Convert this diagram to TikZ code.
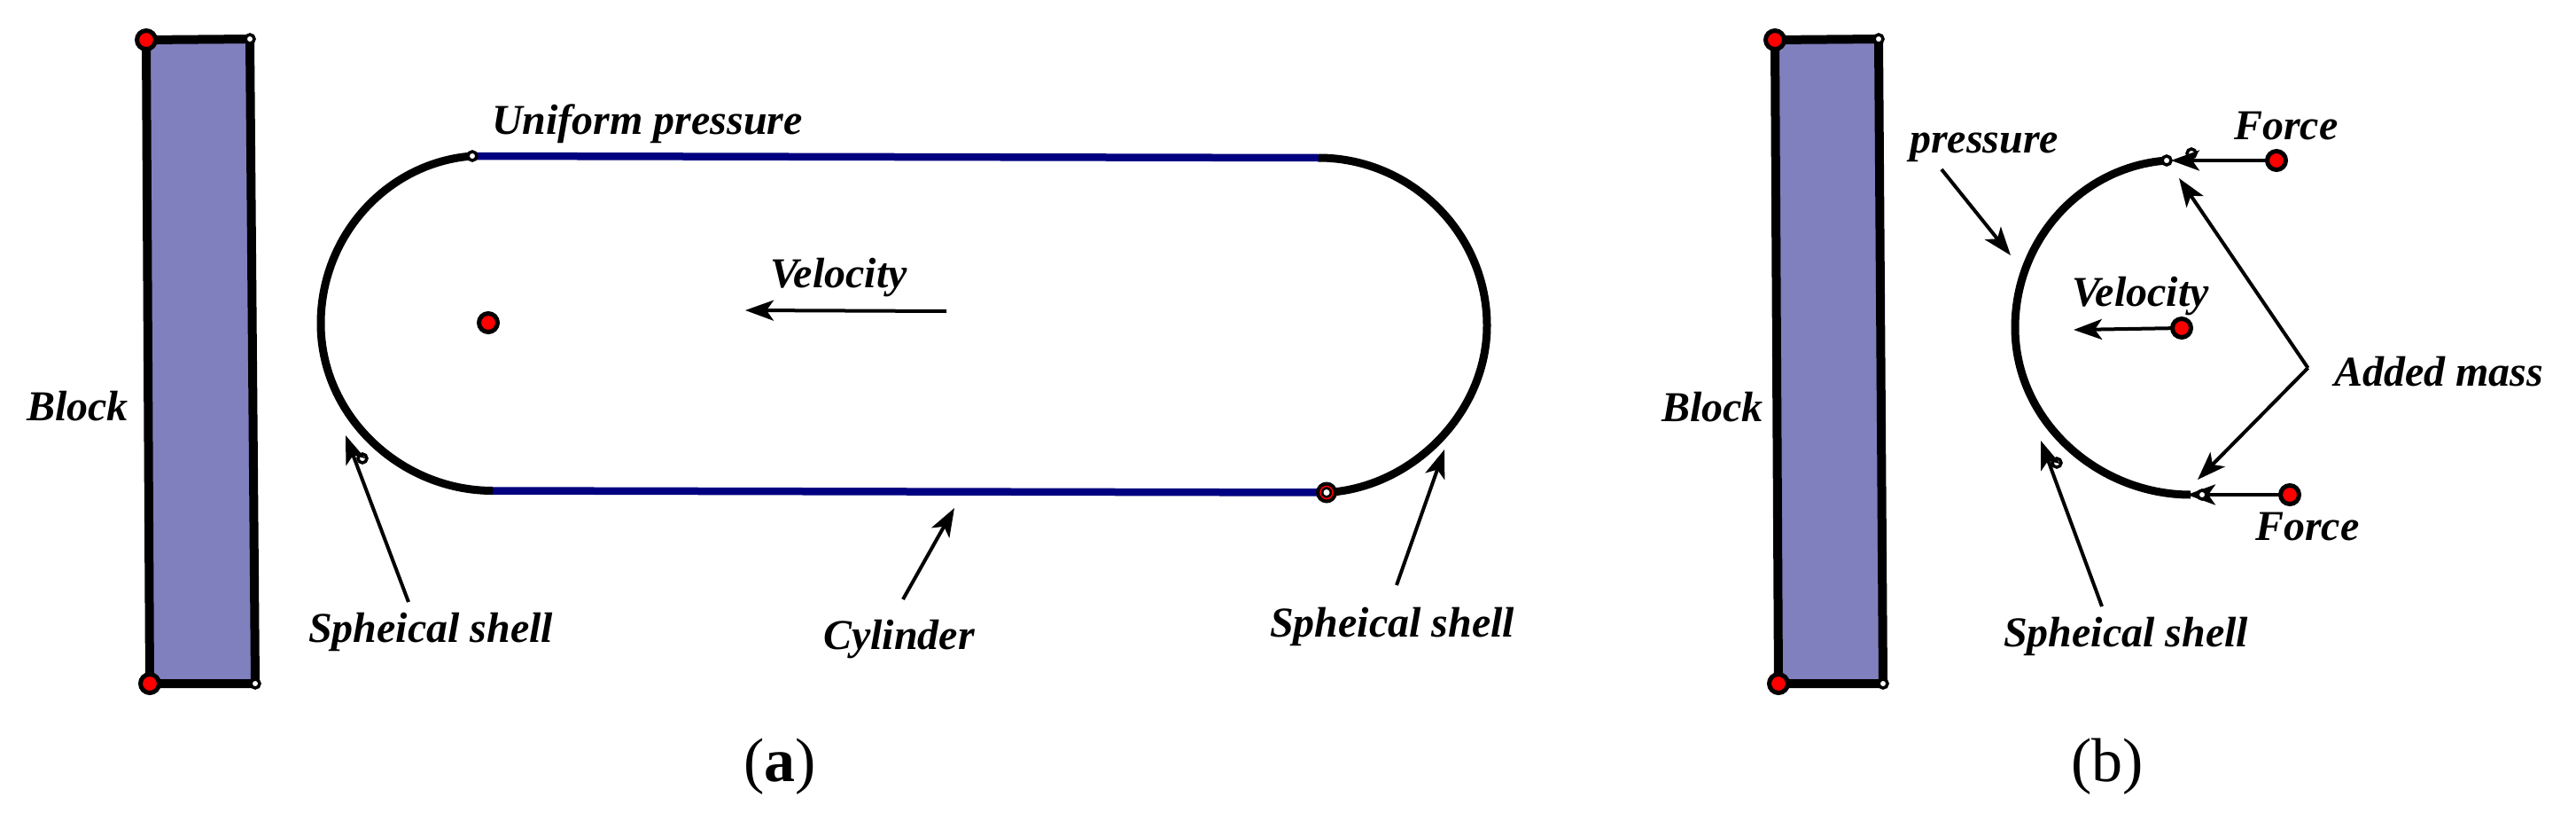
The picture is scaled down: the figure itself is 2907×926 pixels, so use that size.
\documentclass[tikz,border=0pt]{standalone}
\usepackage{fontspec}
\setmainfont{Liberation Serif}
\usepackage{tikz}
\usetikzlibrary{arrows.meta}
\definecolor{blockfill}{RGB}{128,128,190}
\definecolor{cylblue}{RGB}{0,0,128}

\begin{document}
\begin{tikzpicture}[x=1pt,y=-1pt,>={Stealth[length=32pt,width=23pt,inset=8pt]},line width=4pt]
	\tikzstyle{every node}=[inner sep=0pt, outer sep=0pt]
	\tikzstyle{reddot}=[circle, fill=red, draw=black, line width=5pt, minimum size=21pt]
	\tikzstyle{whitedot}=[circle, fill=white, draw=black, line width=3.5pt, minimum size=10pt]
	\tikzstyle{label}=[anchor=base west, font=\fontsize{48}{48}\selectfont\bfseries\itshape]
	\tikzstyle{caption}=[anchor=base west, font=\fontsize{70}{70}\selectfont]
	\tikzstyle{blockline}=[fill=blockfill, draw=black, line width=10pt, line join=miter]
	\tikzstyle{shell}=[draw=black, line width=9pt]
	\tikzstyle{cyl}=[draw=cylblue, line width=8.5pt]
	\useasboundingbox (0,0) rectangle (2907,926);

	\coordinate (AT1) at (165,45);
	\coordinate (AT2) at (282,44);
	\coordinate (AT3) at (288,771);
	\coordinate (AT4) at (169,771);
	\coordinate (BT1) at (2003,45);
	\coordinate (BT2) at (2120,44);
	\coordinate (BT3) at (2125,771);
	\coordinate (BT4) at (2007,771);
	\path[blockline] (AT1) -- (AT2) -- (AT3) -- (AT4) -- cycle;
	\path[blockline] (BT1) -- (BT2) -- (BT3) -- (BT4) -- cycle;

	\coordinate (L1) at (533,176);
	\coordinate (L2) at (362,365);
	\coordinate (L3) at (556,553.5);
	\coordinate (R1) at (1488,178);
	\coordinate (R2) at (1678,367);
	\coordinate (R3) at (1497,555.5);
	\path[cyl] (L1) -- (R1);
	\path[cyl] (L3) -- (R3);
	\path[shell] (L1) .. controls +(-95,7) and +(0,-100) .. (L2) .. controls +(0,104) and +(-104,0) .. (L3);
	\path[shell] (R1) .. controls +(104,0) and +(0,-104) .. (R2) .. controls +(0,100) and +(95,-5) .. (R3);

	\coordinate (C1) at (2445,181);
	\coordinate (C2) at (2274,369.5);
	\coordinate (C3) at (2472,558);
	\path[shell] (C1) .. controls +(-95,7) and +(0,-100) .. (C2) .. controls +(0,106) and +(-104,0) .. (C3);

	\node[reddot]   (A)  at (AT1) {};
	\node[reddot]   (D)  at (AT4) {};
	\node[whitedot] (B)  at (AT2) {};
	\node[whitedot] (C)  at (AT3) {};
	\node[reddot]   (E)  at (BT1) {};
	\node[reddot]   (H)  at (BT4) {};
	\node[whitedot] (F)  at (BT2) {};
	\node[whitedot] (G)  at (BT3) {};
	\node[reddot]   (CylCentre) at (551,364) {};
	\node[whitedot] (CylTop) at (L1) {};
	\node[whitedot] (ShellA) at (409,517) {};
	\node[circle, fill=black, minimum size=24pt] (Ring) at (R3) {};
	\node[circle, fill=black, draw=red, line width=1.5pt, minimum size=14pt] (RingIn) at (R3) {};
	\node[circle, fill=white, minimum size=7pt] (RingDot) at (R3) {};
	\node[reddot]   (SphCentre) at (2462,370) {};
	\node[reddot]   (ForceUp) at (2569,181) {};
	\node[reddot]   (ForceDown) at (2584,558) {};
	\node[whitedot] (SphTop) at (C1) {};
	\node[whitedot] (SphTopB) at (2473,173) {};
	\node[whitedot] (ShellB) at (2321,522) {};

	\coordinate (VelTail) at (1068,351);
	\coordinate (VelTip) at (841,350);
	\coordinate (ShellATail) at (461,679);
	\coordinate (ShellATip) at (390,491);
	\coordinate (CylTail) at (1019,676);
	\coordinate (CylTip) at (1077,573);
	\coordinate (ShellCTail) at (1576,660);
	\coordinate (ShellCTip) at (1630,507);
	\coordinate (PressTail) at (2191,191);
	\coordinate (PressTip) at (2269,288);
	\coordinate (VelBTip) at (2340,372);
	\coordinate (ForceUpTip) at (2450,181);
	\coordinate (ForceDownTip) at (2468,558);
	\coordinate (Kink) at (2604.5,415);
	\coordinate (MassUp) at (2459,201);
	\coordinate (MassDown) at (2480,541);
	\coordinate (ShellBTail) at (2372,684);
	\coordinate (ShellBTip) at (2303,497);
	\path[->]
	(VelTail) edge (VelTip)
	(ShellATail) edge (ShellATip)
	(CylTail) edge (CylTip)
	(ShellCTail) edge (ShellCTip)
	(PressTail) edge (PressTip)
	(SphCentre) edge (VelBTip)
	(ForceUp) edge (ForceUpTip)
	(ForceDown) edge (ForceDownTip)
	(Kink) edge (MassUp)
	(Kink) edge (MassDown)
	(ShellBTail) edge (ShellBTip);
	\node[whitedot] (SphBottom) at (2485,558) {};

	\node[label] (BlockA) at (30,474) {Block};
	\node[label] (Uniform) at (555,151) {Uniform pressure};
	\node[label] (VelA) at (869,324) {Velocity};
	\node[label] (SpheicalA) at (348,724) {Spheical shell};
	\node[label] (Cylinder) at (929,732) {Cylinder};
	\node[label] (SpheicalC) at (1433,718) {Spheical shell};
	\node[caption] (CapA) at (839,881) {(\textbf{a})};
	\node[label] (BlockB) at (1875,475) {Block};
	\node[label] (Pressure) at (2155,172) {pressure};
	\node[label] (VelB) at (2338,345) {Velocity};
	\node[label] (ForceA) at (2521,157) {Force};
	\node[label] (ForceB) at (2545,609) {Force};
	\node[label] (Added) at (2634,435) {Added mass};
	\node[label] (SpheicalB) at (2261,729) {Spheical shell};
	\node[caption] (CapB) at (2337,881) {(b)};
\end{tikzpicture}
\end{document}
